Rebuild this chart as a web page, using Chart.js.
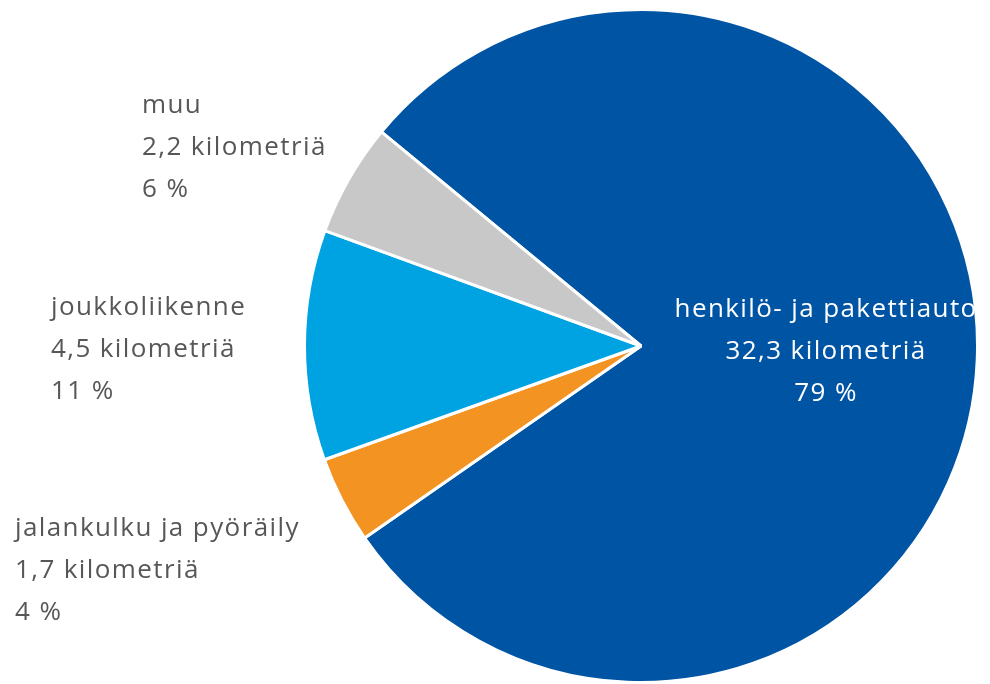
<!DOCTYPE html>
<html>
<head>
<meta charset="utf-8">
<script src="https://cdn.jsdelivr.net/npm/chart.js@4"></script>
<style>
  html, body { margin: 0; padding: 0; background: #fff; }
  #wrap { width: 990px; height: 684px; }
</style>
</head>
<body>
<div id="wrap"><canvas id="pieCanvas"></canvas></div>
<script>
const categories = ["henkilö- ja pakettiauto", "jalankulku ja pyöräily", "joukkoliikenne", "muu"];
const kilometers = [32.3, 1.7, 4.5, 2.2];
const percents = [79, 4, 11, 6];
const sliceColors = ["#0054a4", "#f39322", "#00a3e1", "#c8c8c8"];

// where the text blocks sit (left x, first line y); the big slice is centred inside
const outsideLabels = {
    1: { x: 15, y: 529 },
    2: { x: 51, y: 308 },
    3: { x: 142, y: 106 }
};

const fmt = v => v.toFixed(1).replace(".", ",");

const labelPlugin = {
    id: "sliceLabels",
    afterDatasetsDraw(chart) {
        const ctx = chart.ctx;
        const arcs = chart.getDatasetMeta(0).data;
        const lineH = 42;
        ctx.save();
        ctx.font = "500 26px 'Open Sans'";
        ctx.letterSpacing = "1.4px";
        ctx.textBaseline = "middle";
        arcs.forEach((arc, i) => {
            const lines = [categories[i], fmt(kilometers[i]) + " kilometriä", percents[i] + " %"];
            if (i === 0) {
                ctx.fillStyle = "#ffffff";
                ctx.textAlign = "center";
                const cx = arc.x + arc.outerRadius * 0.55;
                lines.forEach((t, k) => ctx.fillText(t, cx, arc.y + (k - 1) * lineH + 6));
            } else {
                const p = outsideLabels[i];
                ctx.fillStyle = "#575757";
                ctx.textAlign = "left";
                lines.forEach((t, k) => ctx.fillText(t, p.x, p.y + k * lineH));
            }
        });
        ctx.restore();
    }
};

const pieChart = new Chart(document.getElementById("pieCanvas"), {
    type: "pie",
    data: {
        labels: categories,
        datasets: [{
            data: kilometers,
            backgroundColor: sliceColors,
            borderColor: "#ffffff",
            borderWidth: 3
        }]
    },
    options: {
        responsive: true,
        maintainAspectRatio: false,
        animation: false,
        rotation: -50.5,
        layout: { padding: { left: 302, right: 10, top: 8, bottom: 0 } },
        plugins: {
            legend: { display: false },
            tooltip: { enabled: false }
        }
    },
    plugins: [labelPlugin]
});
</script>
</body>
</html>
